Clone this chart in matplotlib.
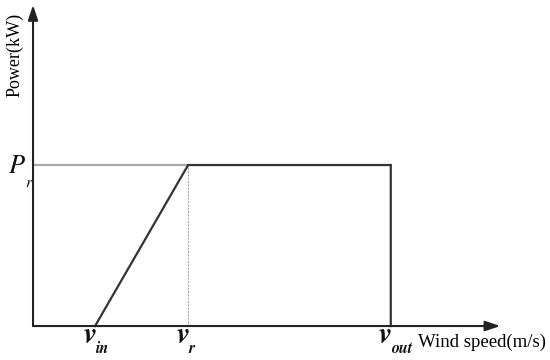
import matplotlib
matplotlib.use("Agg")
import matplotlib.pyplot as plt

# Data (wind speed in m/s, normalised power)
v_in = 3.0
v_r = 7.5
v_out = 17.3
P_r = 1.0
curve_x = [v_in, v_r, v_out, v_out]
curve_y = [0.0, P_r, P_r, 0.0]
x_label = "Wind speed(m/s)"
y_label = "Power(kW)"
tick_subs = ["in", "r", "out"]
tick_pos = [v_in, v_r, v_out]

plt.rcParams['font.family'] = ['Liberation Serif', 'DejaVu Serif']

fig = plt.figure(figsize=(5.5, 3.6), dpi=100)
ax = fig.add_axes([0, 0, 1, 1])
ax.set_xlim(-1.597, 25.0)
ax.set_ylim(-0.211, 2.025)
ax.axis('off')

x_end = 22.6
y_end = 1.994
# axes arrows
ax.annotate('', xy=(x_end, 0), xytext=(0, 0),
            arrowprops=dict(arrowstyle='-|>,head_length=0.9,head_width=0.3', color='#222222', lw=1.5,
                            shrinkA=0, shrinkB=0))
ax.annotate('', xy=(0, y_end), xytext=(0, 0),
            arrowprops=dict(arrowstyle='-|>,head_length=0.9,head_width=0.3', color='#222222', lw=1.5,
                            shrinkA=0, shrinkB=0))

# reference lines
ax.plot([0, v_r], [P_r, P_r], color='#aaaaaa', lw=1.6, solid_capstyle='butt')
ax.plot([v_r, v_r], [0, P_r], color='#aaaaaa', lw=0.8, ls=(0, (2, 1)))

# power curve
ax.plot(curve_x, curve_y, color='#333333', lw=1.6, solid_joinstyle='miter')

ital = dict(family=['STIXGeneral', 'DejaVu Serif'], style='italic', color='#111111')
# tick-like labels
for sub, pos in zip(tick_subs, tick_pos):
    ax.text(pos + 0.05, -0.106, "v", ha='right', va='baseline', fontsize=21, weight='bold', **ital)
    ax.text(pos + 0.02, -0.168, sub, ha='left', va='baseline', fontsize=11.5, weight='bold', **ital)
ax.text(-0.387, 0.95, "P", ha='right', va='baseline', fontsize=19, **ital)
ax.text(-0.37, 0.865, "r", ha='left', va='baseline', fontsize=11.5, **ital)

ax.text(21.72, -0.13, x_label, ha='center', va='baseline', fontsize=13.5)
ax.text(-0.895, 1.683, y_label, rotation=90, ha='center', va='center', fontsize=13)

fig.savefig('out.png', dpi=100)
